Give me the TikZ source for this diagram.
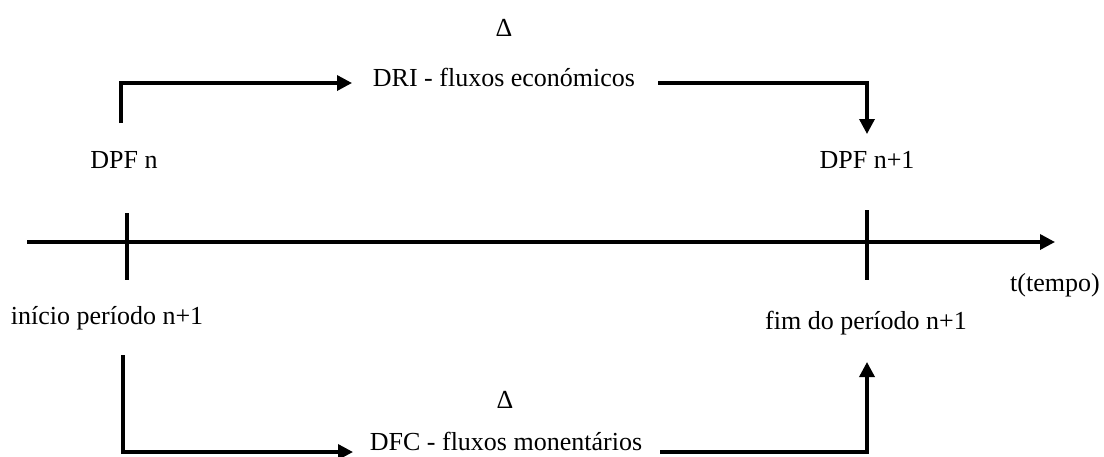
\documentclass[tikz,border=0pt]{standalone}
\usepackage{fontspec}
\setmainfont{Liberation Serif}
\usetikzlibrary{arrows.meta}
\begin{document}
\begin{tikzpicture}[x=1pt,y=-1pt,
  lbl/.style={font=\fontsize{26}{30}\selectfont, inner sep=0pt},
  flow/.style={line width=3.4pt, -{Triangle[length=15pt,width=15pt]}},
  plain/.style={line width=3.4pt}]
\useasboundingbox (0,0) rectangle (1104,456);

% labels
\node[lbl] (d1)    at (504,28)  {Δ};
\node[lbl] (dri)   at (504,77)  {DRI - fluxos económicos};
\node[lbl] (dpfn)  at (124,160) {DPF n};
\node[lbl] (dpfn1) at (867,160) {DPF n+1};
\node[lbl] (ini)   at (107,318) {início período n+1};
\node[lbl] (fim)   at (866,323) {fim do período n+1};
\node[lbl] (t)     at (1055,285) {t(tempo)};
\node[lbl] (d2)    at (505,400) {Δ};
\node[lbl] (dfc)   at (506,441) {DFC - fluxos monentários};

% time axis and ticks
\coordinate (a0) at (27,242);
\coordinate (a1) at (1055,242);
\draw[flow] (a0) -- (a1);
\coordinate (k0a) at (127,213);
\coordinate (k0b) at (127,280);
\coordinate (k1a) at (867,210);
\coordinate (k1b) at (867,280);
\draw[plain] (k0a) -- (k0b);
\draw[plain] (k1a) -- (k1b);

% economic flows (top)
\coordinate (p1) at (121,123);
\coordinate (p2) at (352,83);
\coordinate (p3) at (658,83);
\coordinate (p4) at (867,134);
\draw[flow] (p1) |- (p2);
\draw[flow] (p3) -| (p4);

% cash flows (bottom)
\coordinate (q1) at (123,355);
\coordinate (q2) at (353,452);
\coordinate (q3) at (660,452);
\coordinate (q4) at (867,362);
\draw[flow] (q1) |- (q2);
\draw[flow] (q3) -| (q4);
\end{tikzpicture}
\end{document}
